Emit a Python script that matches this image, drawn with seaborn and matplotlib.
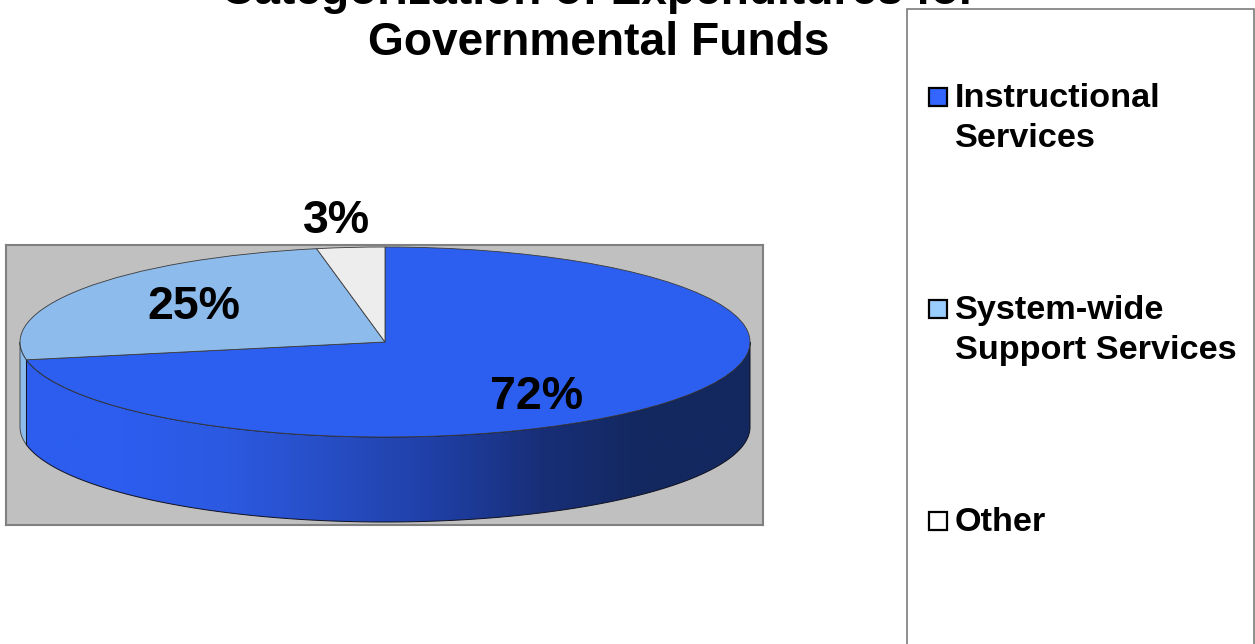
import numpy as np
import matplotlib
matplotlib.use("Agg")
import matplotlib.pyplot as plt
from matplotlib.patches import Rectangle, PathPatch
from matplotlib.path import Path
import seaborn as sns

# Share of governmental fund expenditures, in percent
categories = ["Instructional\nServices", "System-wide\nSupport Services", "Other"]
shares = [72, 25, 3]
slice_colors = ["#2C5FF0", "#8CBBEC", "#EDEDED"]
key_colors = ["#3366FF", "#99CCFF", "#FFFFFF"]
title_text = "Categorization of Expenditures for\nGovernmental Funds"

W, H = 1255, 644
PLOT_BOX = (6, 245, 763, 525)      # left, top, right, bottom in pixels
CENTER = (385, 342)
RX, RY = 365, 95
DEPTH = 85 / RY                    # wall height in units of the pie radius

sns.set_theme(style="white")
plt.rcParams["font.family"] = ["Liberation Sans", "DejaVu Sans"]

fig = plt.figure(figsize=(W / 100, H / 100), dpi=100, facecolor="white")

# Axes covering the grey plot box; the unit pie is squashed by the data limits
left, top, right, bottom = PLOT_BOX
ax = fig.add_axes([left / W, 1 - bottom / H, (right - left) / W, (bottom - top) / H])
wedges, _ = ax.pie(shares, colors=slice_colors, startangle=90, counterclock=False, radius=1,
                   wedgeprops=dict(edgecolor="#3A3A3A", linewidth=0.6, zorder=5))


def wall_path(start_deg, end_deg):
    """Outline of the pie's side wall between two angles on the front half."""
    t = np.radians(np.linspace(start_deg, end_deg, 200))
    x, y = np.cos(t), np.sin(t)
    verts = np.r_[np.c_[x, y], np.c_[x, y - DEPTH][::-1]]
    verts = np.r_[verts, verts[:1]]
    return Path(verts, closed=True)


# Front wall: the slices are laid clockwise from 12 o'clock
first_end = 90 - 360 * shares[0] / sum(shares) + 360
light_wall = PathPatch(wall_path(180, first_end), facecolor=slice_colors[1],
                       edgecolor="#3A3A3A", linewidth=0.6, zorder=2)
ax.add_patch(light_wall)

shade = sns.blend_palette(["#2C5DEE", "#2C5DEE", "#2B59E0", "#274DC4", "#1F3FA5",
                           "#182F78", "#13285F", "#13285F"], as_cmap=True)
blue_wall = PathPatch(wall_path(first_end, 360), facecolor="none",
                      edgecolor="#10101F", linewidth=0.7, zorder=4)
ax.add_patch(blue_wall)
ramp = ax.imshow(np.linspace(0, 1, 512)[None, :], cmap=shade, aspect="auto",
                 extent=(-1, 1, -1 - DEPTH, 0), zorder=3, interpolation="bilinear")
ramp.set_clip_path(PathPatch(wall_path(first_end, 360), transform=ax.transData))

ax.set_aspect("auto")
ax.set_xlim((left - CENTER[0]) / RX, (right - CENTER[0]) / RX)
ax.set_ylim((CENTER[1] - bottom) / RY, (CENTER[1] - top) / RY)
ax.set_xticks([])
ax.set_yticks([])
ax.set_frame_on(True)
ax.set_facecolor("#C0C0C0")
for spine in ax.spines.values():
    spine.set_visible(True)
    spine.set_color("#808080")
    spine.set_linewidth(1.5)

# Overlay in pixel coordinates for the title, value labels and key
over = fig.add_axes([0, 0, 1, 1], facecolor="none")
over.set_xlim(0, W)
over.set_ylim(H, 0)
over.axis("off")

over.text(599, 55, title_text, ha="center", va="baseline", fontsize=33.2,
          fontweight="bold", color="black", linespacing=1.22, clip_on=False)

label_positions = [(537, 397), (194, 307), (337, 221)]
for value, (lx, ly) in zip(shares, label_positions):
    over.text(lx, ly, f"{value}%", ha="center", va="center", fontsize=33.5,
              fontweight="bold", color="black", zorder=10)

over.add_patch(Rectangle((907, 9), 347, 700, facecolor="white", edgecolor="#707070",
                         linewidth=1.1, zorder=1))
key_tops = [88, 300, 512]
for name, color, y in zip(categories, key_colors, key_tops):
    over.add_patch(Rectangle((929, y), 18, 18, facecolor=color, edgecolor="black",
                             linewidth=1.6, zorder=2))
    first_baseline = y + 19
    for i, line in enumerate(name.split("\n")):
        over.text(955, first_baseline + i * 39.5, line, ha="left", va="baseline",
                  fontsize=24.7, fontweight="bold", color="black", zorder=3)

fig.savefig("out.png", dpi=100, facecolor="white")
